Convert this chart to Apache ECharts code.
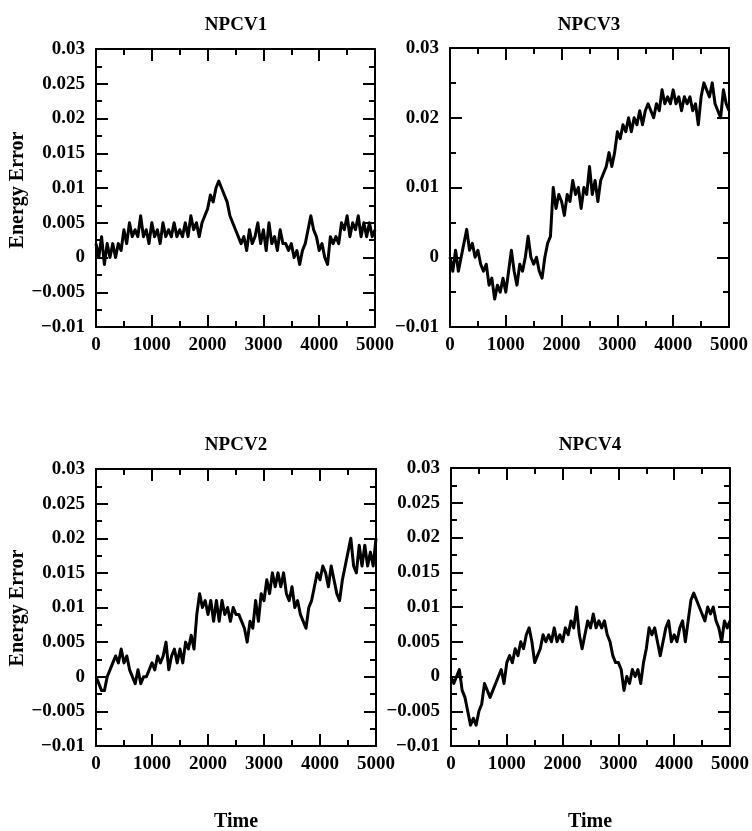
<!DOCTYPE html>
<html>
<head>
<meta charset="utf-8">
<script src="https://cdn.jsdelivr.net/npm/echarts@6/dist/echarts.min.js"></script>
<style>
html,body{margin:0;padding:0;background:#fff;}
#chart{width:752px;height:831px;}
</style>
</head>
<body>
<div id="chart"></div>
<script>
// Sampling step of the time axis (time units)
const timeStep = 50;

// NPCV1 (top-left)
const npcv1 = [0.002,0.000,0.003,-0.001,0.002,0.000,0.002,0.000,0.002,0.001,
0.004,0.002,0.005,0.003,0.004,0.003,0.006,0.003,0.004,0.002,
0.005,0.003,0.004,0.002,0.005,0.003,0.004,0.003,0.005,0.003,
0.004,0.003,0.005,0.003,0.006,0.004,0.005,0.003,0.005,0.006,
0.007,0.009,0.008,0.010,0.011,0.010,0.009,0.008,0.006,0.005,
0.004,0.003,0.002,0.003,0.001,0.004,0.002,0.003,0.005,0.002,
0.004,0.001,0.005,0.002,0.003,0.001,0.004,0.002,0.002,0.001,
0.002,0.000,0.001,-0.001,0.001,0.002,0.004,0.006,0.004,0.003,
0.001,0.002,0.000,-0.001,0.003,0.002,0.003,0.002,0.005,0.004,
0.006,0.003,0.005,0.004,0.006,0.003,0.005,0.003,0.005,0.003,0.004];

// NPCV3 (top-right)
const npcv3 = [0.000,-0.002,0.001,-0.002,0.000,0.002,0.004,0.001,0.002,0.000,
0.001,-0.001,-0.002,-0.001,-0.004,-0.003,-0.006,-0.004,-0.005,-0.003,
-0.005,-0.002,0.001,-0.002,-0.004,-0.001,-0.002,0.000,0.003,0.000,
-0.001,0.000,-0.002,-0.003,0.000,0.002,0.003,0.010,0.007,0.009,
0.008,0.006,0.009,0.008,0.011,0.009,0.010,0.007,0.010,0.009,
0.013,0.009,0.011,0.008,0.011,0.012,0.013,0.015,0.013,0.015,
0.018,0.017,0.019,0.018,0.020,0.018,0.020,0.019,0.021,0.019,
0.021,0.022,0.021,0.020,0.022,0.021,0.024,0.022,0.023,0.022,
0.024,0.022,0.023,0.021,0.023,0.022,0.023,0.021,0.022,0.019,
0.023,0.025,0.024,0.023,0.025,0.022,0.021,0.020,0.024,0.022,0.021];

// NPCV2 (bottom-left)
const npcv2 = [0.000,-0.001,-0.002,-0.002,0.000,0.001,0.002,0.003,0.002,0.004,
0.002,0.003,0.001,0.000,-0.001,0.001,-0.001,0.000,0.000,0.001,
0.002,0.001,0.003,0.002,0.003,0.005,0.001,0.003,0.004,0.002,
0.004,0.002,0.005,0.004,0.006,0.004,0.009,0.012,0.010,0.011,
0.009,0.011,0.008,0.011,0.008,0.011,0.009,0.010,0.008,0.010,
0.009,0.009,0.008,0.007,0.005,0.008,0.007,0.011,0.008,0.012,
0.011,0.014,0.012,0.015,0.013,0.015,0.013,0.015,0.012,0.011,
0.013,0.010,0.011,0.009,0.008,0.007,0.010,0.011,0.013,0.015,
0.014,0.016,0.015,0.013,0.016,0.014,0.012,0.011,0.014,0.016,
0.018,0.020,0.016,0.015,0.019,0.016,0.019,0.016,0.018,0.016,0.020];

// NPCV4 (bottom-right)
const npcv4 = [0.000,-0.001,0.000,0.001,-0.002,-0.003,-0.005,-0.007,-0.006,-0.007,
-0.005,-0.004,-0.001,-0.002,-0.003,-0.002,-0.001,0.000,0.001,-0.001,
0.002,0.003,0.002,0.004,0.003,0.005,0.004,0.006,0.007,0.005,
0.002,0.003,0.004,0.006,0.005,0.006,0.005,0.007,0.005,0.006,
0.005,0.007,0.006,0.008,0.007,0.010,0.006,0.004,0.006,0.008,
0.007,0.009,0.007,0.008,0.007,0.008,0.006,0.005,0.003,0.002,
0.002,0.001,-0.002,0.000,-0.001,0.001,0.000,0.001,-0.001,0.002,
0.004,0.007,0.006,0.007,0.005,0.003,0.005,0.007,0.008,0.005,
0.006,0.005,0.007,0.008,0.005,0.008,0.011,0.012,0.011,0.010,
0.009,0.008,0.010,0.009,0.010,0.008,0.007,0.005,0.008,0.007,0.008];

const panelTitles = ['NPCV1', 'NPCV3', 'NPCV2', 'NPCV4'];
const panelSeries = [npcv1, npcv3, npcv2, npcv4];
const yIntervals = [0.005, 0.01, 0.005, 0.005];
const xTicks = [0, 1000, 2000, 3000, 4000, 5000];
const yName = 'Energy Error';
const xName = 'Time';

const FONT = '"Liberation Serif", "DejaVu Serif", serif';
const grids = [
  {left: 96, top: 49, width: 279, height: 278},
  {left: 450, top: 48, width: 279, height: 279},
  {left: 96, top: 469, width: 280, height: 277},
  {left: 451, top: 468, width: 280, height: 278}
];

function fmtY(v) {
  let s = (+v.toFixed(4)).toString();
  if (s.startsWith('-')) s = '\u2212' + s.slice(1);
  return s;
}

const axisLine = {show: true, onZero: false, lineStyle: {color: '#000', width: 2}};
const tickCfg = {show: true, inside: true, length: 12, lineStyle: {color: '#000', width: 2}};
const minorCfg = {show: true, splitNumber: 2, length: 6, lineStyle: {color: '#000', width: 2}};
const labelCfg = {color: '#000', fontFamily: FONT, fontWeight: 'bold', fontSize: 19};

const xAxes = [], yAxes = [], series = [];
grids.forEach((g, i) => {
  xAxes.push({type: 'value', gridIndex: i, min: 0, max: 5000, interval: 1000, position: 'bottom',
    axisLine, axisTick: tickCfg, minorTick: minorCfg, splitLine: {show: false},
    axisLabel: Object.assign({margin: 9, formatter: v => xTicks.includes(v) ? String(v) : ''}, labelCfg)});
  xAxes.push({type: 'value', gridIndex: i, min: 0, max: 5000, interval: 1000, position: 'top',
    axisLine, axisTick: tickCfg, minorTick: minorCfg, splitLine: {show: false}, axisLabel: {show: false}});
  yAxes.push({type: 'value', gridIndex: i, min: -0.01, max: 0.03, interval: yIntervals[i], position: 'left',
    axisLine, axisTick: tickCfg, minorTick: minorCfg, splitLine: {show: false},
    axisLabel: Object.assign({margin: 11, formatter: fmtY}, labelCfg)});
  yAxes.push({type: 'value', gridIndex: i, min: -0.01, max: 0.03, interval: yIntervals[i], position: 'right',
    axisLine, axisTick: tickCfg, minorTick: minorCfg, splitLine: {show: false}, axisLabel: {show: false}});
  series.push({type: 'line', xAxisIndex: 2 * i, yAxisIndex: 2 * i, showSymbol: false, symbol: 'none',
    lineStyle: {color: '#000', width: 3, join: 'round'}, data: panelSeries[i].map((v, k) => [k * timeStep, v])});
});

const textStyle = (t, x, y, rot, size) => ({type: 'text', x, y, rotation: rot || 0,
  style: {text: t, fill: '#000', font: 'bold ' + (size || 19) + 'px ' + FONT, align: 'center', verticalAlign: 'middle'}});

const graphic = [
  textStyle(panelTitles[0], 236, 25),
  textStyle(panelTitles[1], 589, 25),
  textStyle(panelTitles[2], 236, 445),
  textStyle(panelTitles[3], 590, 445),
  textStyle(yName, 18, 190, Math.PI / 2, 20),
  textStyle(yName, 18, 608, Math.PI / 2, 20),
  textStyle(xName, 236, 822, 0, 20),
  textStyle(xName, 590, 822, 0, 20)
];

const chart = echarts.init(document.getElementById('chart'), null, {renderer: 'canvas'});
chart.setOption({
  animation: false,
  backgroundColor: '#fff',
  grid: grids,
  xAxis: xAxes,
  yAxis: yAxes,
  series,
  graphic
});
</script>
</body>
</html>
